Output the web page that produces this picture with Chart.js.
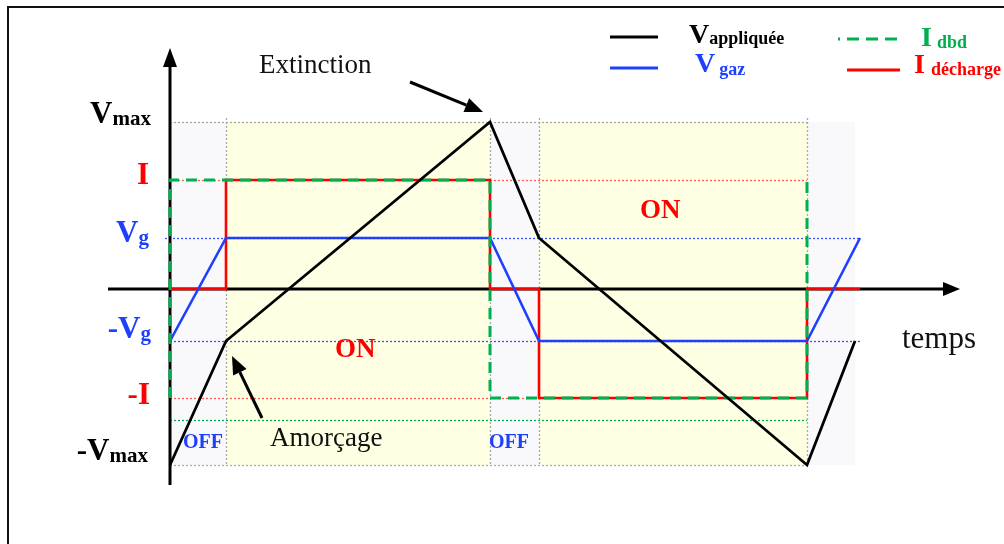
<!DOCTYPE html>
<html lang="fr">
<head>
<meta charset="utf-8">
<title>Décharge DBD – tension et courant</title>
<script src="https://cdn.jsdelivr.net/npm/chart.js@4.4.1/dist/chart.umd.min.js"></script>
<style>
  html, body { margin: 0; padding: 0; background: #fff; }
  #wrap { position: relative; width: 1004px; height: 544px; }
</style>
</head>
<body>
<div id="wrap"><canvas id="chartDbd" width="1004" height="544"></canvas></div>
<script>
// ── Données (temps et amplitudes en unités arbitraires) ──
const tAppliquee = [0, 0.56, 3.20, 3.69, 6.37, 6.85];
const vAppliquee = [-1.76, -0.52, 1.67, 0.51, -1.76, -0.52];

const tGaz = [0, 0.56, 3.20, 3.69, 6.37, 6.90];
const vGaz = [-0.52, 0.51, 0.51, -0.52, -0.52, 0.51];

const tDecharge = [0, 0.56, 0.56, 3.20, 3.20, 3.69, 3.69, 6.37, 6.37, 6.90];
const iDecharge = [0, 0, 1.09, 1.09, 0, 0, -1.09, -1.09, 0, 0];

const tDbd = [0, 0, 3.20, 3.20, 6.37, 6.37];
const iDbd = [-1.09, 1.09, 1.09, -1.09, -1.09, 1.09];

// niveaux repérés sur l'axe vertical
const niveauNom   = ['V', 'I', 'V', '-V', '-I', '-V'];
const niveauIndice = ['max', '', 'g', 'g', '', 'max'];
const niveauValeur = [1.67, 1.09, 0.51, -0.52, -1.09, -1.76];
const seuilDbd = -1.31;

// phases de la décharge
const phaseDebut = [0, 0.56, 3.20, 3.69, 6.37];
const phaseFin   = [0.56, 3.20, 3.69, 6.37, 6.85];
const phaseEtat  = ['OFF', 'ON', 'OFF', 'ON', 'OFF'];

const NOIR  = '#000000';
const BLEU  = '#1f3fff';
const ROUGE = '#ff0000';
const VERT  = '#00b050';
const SERIF = '"Liberation Serif", "DejaVu Serif", serif';

const toXY = (ts, vs) => ts.map((t, i) => ({ x: t, y: vs[i] }));

function drawSub(ctx, x, y, main, sub, color, size, subSize, align, space, subDy) {
  const fMain = `bold ${size}px ${SERIF}`;
  const fSub  = `bold ${subSize}px ${SERIF}`;
  ctx.font = fMain; const w1 = ctx.measureText(main).width;
  ctx.font = fSub;  const w2 = sub ? ctx.measureText(sub).width : 0;
  const x0 = align === 'right' ? x - w1 - space - w2 : x;
  ctx.fillStyle = color;
  ctx.textAlign = 'left';
  ctx.textBaseline = 'alphabetic';
  ctx.font = fMain; ctx.fillText(main, x0, y);
  if (sub) { ctx.font = fSub; ctx.fillText(sub, x0 + w1 + space, y + subDy); }
}

function drawArrow(ctx, x1, y1, x2, y2, len, half, width) {
  const a = Math.atan2(y2 - y1, x2 - x1);
  const bx = x2 - len * Math.cos(a), by = y2 - len * Math.sin(a);
  ctx.strokeStyle = NOIR; ctx.fillStyle = NOIR;
  ctx.lineWidth = width; ctx.setLineDash([]);
  ctx.beginPath(); ctx.moveTo(x1, y1); ctx.lineTo(bx, by); ctx.stroke();
  ctx.beginPath();
  ctx.moveTo(x2, y2);
  ctx.lineTo(bx + half * Math.sin(a), by - half * Math.cos(a));
  ctx.lineTo(bx - half * Math.sin(a), by + half * Math.cos(a));
  ctx.closePath(); ctx.fill();
}

function hLine(ctx, sx, sy, t1, t2, v, color, dash) {
  const y = Math.round(sy.getPixelForValue(v)) + 0.5;
  ctx.strokeStyle = color; ctx.lineWidth = 1.3; ctx.setLineDash(dash);
  ctx.beginPath(); ctx.moveTo(sx.getPixelForValue(t1), y); ctx.lineTo(sx.getPixelForValue(t2), y); ctx.stroke();
}

// fond des phases, pointillés de repère et axes fléchés
const fondPlugin = {
  id: 'fond',
  beforeDatasetsDraw(chart) {
    const { ctx, scales: { x: sx, y: sy } } = chart;
    const vMax = niveauValeur[0], vMin = niveauValeur[5];
    ctx.save();
    phaseDebut.forEach((t, i) => {
      ctx.fillStyle = phaseEtat[i] === 'ON' ? '#ffffe4' : '#f9f9fb';
      const x1 = sx.getPixelForValue(t), x2 = sx.getPixelForValue(phaseFin[i]);
      const y1 = sy.getPixelForValue(vMax), y2 = sy.getPixelForValue(vMin);
      ctx.fillRect(x1, y1, x2 - x1, y2 - y1);
    });

    const tEnd = phaseDebut[4];
    hLine(ctx, sx, sy, 0, tEnd, niveauValeur[0], '#a8a8a8', [2, 2]);
    hLine(ctx, sx, sy, 0, tEnd, niveauValeur[1], '#ff5a5a', [2, 2]);
    hLine(ctx, sx, sy, -0.05, 6.90, niveauValeur[2], '#3355ff', [2, 2]);
    hLine(ctx, sx, sy, 0, 6.90, niveauValeur[3], '#3355ff', [2, 2]);
    hLine(ctx, sx, sy, 0, tEnd, niveauValeur[4], '#ff5a5a', [2, 2]);
    hLine(ctx, sx, sy, 0, tEnd, seuilDbd, VERT, [2, 2]);
    hLine(ctx, sx, sy, 0, tEnd, niveauValeur[5], '#a8a8a8', [2, 2]);

    // limites de phases
    ctx.strokeStyle = '#a8a8a8'; ctx.lineWidth = 1.3; ctx.setLineDash([2, 2]);
    phaseDebut.slice(1).forEach(t => {
      const x = Math.round(sx.getPixelForValue(t)) + 0.5;
      ctx.beginPath();
      ctx.moveTo(x, sy.getPixelForValue(vMax) - 4);
      ctx.lineTo(x, sy.getPixelForValue(vMin));
      ctx.stroke();
    });

    // axes
    ctx.setLineDash([]);
    ctx.strokeStyle = NOIR; ctx.fillStyle = NOIR; ctx.lineWidth = 3;
    const y0 = sy.getPixelForValue(0), x0 = sx.getPixelForValue(0);
    ctx.beginPath(); ctx.moveTo(sx.left, y0); ctx.lineTo(sx.right - 14, y0); ctx.stroke();
    ctx.beginPath(); ctx.moveTo(sx.right, y0); ctx.lineTo(sx.right - 17, y0 - 7); ctx.lineTo(sx.right - 17, y0 + 7); ctx.closePath(); ctx.fill();
    ctx.beginPath(); ctx.moveTo(x0, sy.bottom); ctx.lineTo(x0, sy.top + 14); ctx.stroke();
    ctx.beginPath(); ctx.moveTo(x0, sy.top - 2); ctx.lineTo(x0 - 7, sy.top + 17); ctx.lineTo(x0 + 7, sy.top + 17); ctx.closePath(); ctx.fill();
    ctx.restore();
  }
};

// textes, flèches, légende et cadre
const textePlugin = {
  id: 'textes',
  afterDraw(chart) {
    const { ctx, scales: { x: sx, y: sy } } = chart;
    const px = t => sx.getPixelForValue(t), py = v => sy.getPixelForValue(v);
    ctx.save();

    const labelY = [1.66, 1.05, 0.47, -0.49, -1.15, -1.71];
    const labelX = [-0.19, -0.21, -0.21, -0.19, -0.20, -0.22];
    const labelCol = [NOIR, ROUGE, BLEU, BLEU, ROUGE, NOIR];
    niveauNom.forEach((n, i) => {
      drawSub(ctx, px(labelX[i]), py(labelY[i]), n, niveauIndice[i], labelCol[i], 31, 21, 'right', 0, 2);
    });

    // états des phases
    ctx.textAlign = 'left'; ctx.textBaseline = 'alphabetic';
    ctx.font = `bold 20px ${SERIF}`; ctx.fillStyle = BLEU;
    ctx.fillText(phaseEtat[0], px(0.13), py(-1.59));
    ctx.fillText(phaseEtat[2], px(3.19), py(-1.59));
    ctx.font = `bold 27px ${SERIF}`; ctx.fillStyle = ROUGE;
    ctx.fillText(phaseEtat[1], px(1.65), py(-0.68));
    ctx.fillText(phaseEtat[3], px(4.70), py(0.71));

    ctx.font = `27px ${SERIF}`; ctx.fillStyle = '#111';
    ctx.fillText('Extinction', px(0.89), py(2.16));
    ctx.fillText('Amorçage', px(1.00), py(-1.57));
    ctx.font = `31px ${SERIF}`;
    ctx.fillText('temps', px(7.32), py(-0.59));

    // flèches vers le pic (extinction) et l'amorçage
    const pic = { x: px(tAppliquee[2]), y: py(vAppliquee[2]) };
    drawArrow(ctx, pic.x - 80, pic.y - 40, pic.x - 7, pic.y - 10, 18, 7.5, 3);
    const amo = { x: px(tAppliquee[1]), y: py(vAppliquee[1]) };
    drawArrow(ctx, amo.x + 36, amo.y + 77, amo.x + 6, amo.y + 15, 18, 7.5, 3);

    // légende
    ctx.lineWidth = 3; ctx.setLineDash([]);
    ctx.strokeStyle = NOIR; ctx.beginPath(); ctx.moveTo(610, 37); ctx.lineTo(658, 37); ctx.stroke();
    ctx.strokeStyle = BLEU; ctx.beginPath(); ctx.moveTo(610, 68); ctx.lineTo(658, 68); ctx.stroke();
    ctx.strokeStyle = ROUGE; ctx.beginPath(); ctx.moveTo(847, 70); ctx.lineTo(900, 70); ctx.stroke();
    ctx.strokeStyle = VERT; ctx.setLineDash([12, 7]); ctx.lineDashOffset = 10;
    ctx.beginPath(); ctx.moveTo(838, 39); ctx.lineTo(897, 39); ctx.stroke();
    ctx.setLineDash([]); ctx.lineDashOffset = 0;
    drawSub(ctx, 689, 43, 'V', 'appliquée', NOIR, 28, 18, 'left', 0, 1);
    drawSub(ctx, 695, 72, 'V', 'gaz', BLEU, 28, 18, 'left', 4, 3);
    drawSub(ctx, 921, 46, 'I', 'dbd', VERT, 28, 18, 'left', 5, 2);
    drawSub(ctx, 914, 73, 'I', 'décharge', ROUGE, 28, 18, 'left', 6, 2);

    // cadre
    ctx.strokeStyle = '#111'; ctx.lineWidth = 2;
    ctx.beginPath(); ctx.moveTo(8, 544); ctx.lineTo(8, 7); ctx.lineTo(1004, 7); ctx.stroke();
    ctx.restore();
  }
};

const serie = (label, data, color, order, extra) => Object.assign({
  label, data, borderColor: color, backgroundColor: color,
  borderWidth: 2.6, pointRadius: 0, showLine: true, tension: 0, order,
  borderJoinStyle: 'miter', clip: false
}, extra || {});

new Chart(document.getElementById('chartDbd'), {
  type: 'scatter',
  data: {
    datasets: [
      serie('V appliquée', toXY(tAppliquee, vAppliquee), NOIR, 0, { borderWidth: 2.8 }),
      serie('I dbd', toXY(tDbd, iDbd), VERT, 1, { borderDash: [11, 7], borderWidth: 3 }),
      serie('V gaz', toXY(tGaz, vGaz), BLEU, 2),
      serie('I décharge', toXY(tDecharge, iDecharge), ROUGE, 3),
    ]
  },
  options: {
    responsive: false,
    animation: false,
    devicePixelRatio: 1,
    layout: { padding: { left: 108, right: 44, top: 50, bottom: 59 } },
    plugins: { legend: { display: false }, tooltip: { enabled: false } },
    scales: {
      x: { type: 'linear', min: -0.62, max: 7.90, display: false },
      y: { type: 'linear', min: -1.96, max: 2.39, display: false }
    }
  },
  plugins: [fondPlugin, textePlugin]
});
</script>
</body>
</html>
